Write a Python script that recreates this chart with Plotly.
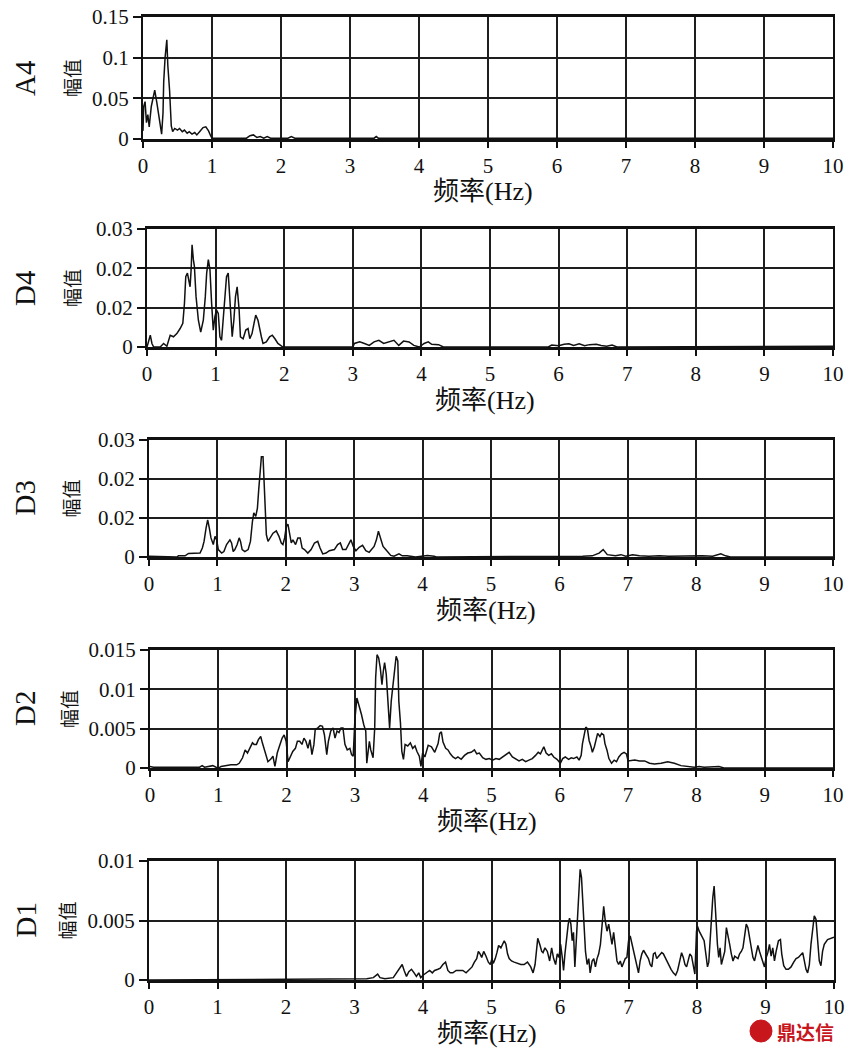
import plotly.graph_objects as go

# ---------------- data (frequency Hz, amplitude) ----------------
panel_names = ["A4", "D4", "D3", "D2", "D1"]
x_ticks = [0, 1, 2, 3, 4, 5, 6, 7, 8, 9, 10]
x_tick_labels = ["0", "1", "2", "3", "4", "5", "6", "7", "8", "9", "10"]

a4_yticks = [0, 0.05, 0.1, 0.15]
a4_ytick_labels = ["0", "0.05", "0.1", "0.15"]
d4_yticks = [0, 0.01, 0.02, 0.03]
d4_ytick_labels = ["0", "0.02", "0.02", "0.03"]
d3_yticks = [0, 0.01, 0.02, 0.03]
d3_ytick_labels = ["0", "0.02", "0.02", "0.03"]
d2_yticks = [0, 0.005, 0.01, 0.015]
d2_ytick_labels = ["0", "0.005", "0.01", "0.015"]
d1_yticks = [0, 0.005, 0.01]
d1_ytick_labels = ["0", "0.005", "0.01"]

a4_freq = [0, 0.01, 0.03, 0.05, 0.07, 0.09, 0.12, 0.15, 0.17, 0.2, 0.23, 0.25, 0.27, 0.29, 0.3, 0.32,
           0.345, 0.36, 0.385, 0.41, 0.43, 0.46, 0.5, 0.53, 0.57, 0.6, 0.64, 0.67, 0.71, 0.75, 0.78,
           0.82, 0.87, 0.91, 0.95, 0.98, 1.0, 1.5, 1.55, 1.6, 1.65, 1.7, 1.75, 1.8, 1.85, 2.1, 2.15,
           2.2, 3.35, 3.38, 3.41, 10.0]
a4_amp = [0.01, 0.04, 0.046, 0.02, 0.03, 0.015, 0.04, 0.055, 0.06, 0.045, 0.03, 0.015, 0.006, 0.032,
          0.07, 0.1, 0.122, 0.09, 0.06, 0.016, 0.009, 0.013, 0.011, 0.013, 0.009, 0.011, 0.007, 0.009,
          0.006, 0.008, 0.005, 0.009, 0.014, 0.015, 0.01, 0.004, 0.001, 0.001, 0.004, 0.005, 0.002,
          0.003, 0.001, 0.003, 0.001, 0.001, 0.003, 0.001, 0.001, 0.003, 0.001, 0.001]

d4_freq = [0, 0.024, 0.048, 0.072, 0.097, 0.193, 0.242, 0.29, 0.338, 0.386, 0.435, 0.483, 0.522,
           0.546, 0.565, 0.589, 0.614, 0.628, 0.643, 0.657, 0.676, 0.691, 0.715, 0.749, 0.783, 0.821,
           0.85, 0.87, 0.894, 0.918, 0.942, 0.966, 0.99, 1.014, 1.039, 1.063, 1.087, 1.111, 1.135,
           1.159, 1.184, 1.208, 1.242, 1.266, 1.29, 1.314, 1.343, 1.362, 1.401, 1.44, 1.473, 1.498,
           1.531, 1.56, 1.585, 1.618, 1.643, 1.667, 1.691, 1.739, 1.787, 1.826, 1.865, 1.908, 1.981,
           3.0, 3.024, 3.1, 3.17, 3.24, 3.31, 3.38, 3.45, 3.53, 3.6, 3.67, 3.74, 3.82, 3.89, 3.97,
           4.04, 4.1, 4.15, 4.25, 4.32, 5.85, 5.9, 6.0, 6.08, 6.15, 6.22, 6.3, 6.38, 6.45, 6.55,
           6.62, 6.7, 6.78, 6.85, 10.0]
d4_amp = [0.0, 0.0013, 0.003, 0.0009, 0.0, 0.0, 0.0009, 0.0002, 0.003, 0.0026, 0.0034, 0.0047, 0.006,
          0.0111, 0.0179, 0.0188, 0.0166, 0.0153, 0.0196, 0.026, 0.0222, 0.0205, 0.0128, 0.0068,
          0.0038, 0.0068, 0.0128, 0.0188, 0.0222, 0.0196, 0.0111, 0.0043, 0.0077, 0.0094, 0.0085,
          0.0026, 0.0017, 0.0068, 0.0128, 0.0179, 0.0188, 0.0119, 0.0026, 0.0068, 0.0128, 0.0153,
          0.0094, 0.0026, 0.0021, 0.0043, 0.0047, 0.0021, 0.0034, 0.006, 0.0081, 0.0068, 0.0043,
          0.0026, 0.0009, 0.0013, 0.0026, 0.003, 0.0021, 0.0009, 0.0,
          0.0, 0.0009, 0.0013, 0.0009, 0.0004, 0.0013, 0.0017, 0.0009, 0.0013, 0.0017, 0.0004,
          0.0015, 0.0013, 0.0004, 0.0, 0.0009, 0.0013, 0.0007, 0.0006, 0.0, 0.0, 0.0005, 0.0003,
          0.0007, 0.0008, 0.0004, 0.0008, 0.0003, 0.0006, 0.0007, 0.0004, 0.0002, 0.0005, 0.0, 0.0002]

d3_freq = [0, 0.407, 0.431, 0.528, 0.577, 0.746, 0.78, 0.805, 0.834, 0.858, 0.882, 0.906, 0.94, 0.965,
           0.989, 1.013, 1.062, 1.095, 1.134, 1.183, 1.207, 1.231, 1.255, 1.289, 1.318, 1.338, 1.362,
           1.401, 1.449, 1.483, 1.512, 1.532, 1.561, 1.585, 1.604, 1.619, 1.643, 1.667, 1.687, 1.701,
           1.716, 1.74, 1.774, 1.813, 1.861, 1.9, 1.934, 1.958, 1.983, 2.007, 2.031, 2.055, 2.08,
           2.104, 2.143, 2.176, 2.21, 2.239, 2.273, 2.322, 2.37, 2.419, 2.467, 2.501, 2.54, 2.588,
           2.637, 2.71, 2.758, 2.797, 2.831, 2.879, 2.928, 2.952, 2.986, 3.025, 3.073, 3.122, 3.17,
           3.219, 3.291, 3.325, 3.354, 3.388, 3.422, 3.461, 3.5, 3.534, 3.582, 3.655, 3.703, 3.776,
           3.897, 4.043, 4.07, 4.17, 4.2, 6.34, 6.48, 6.58, 6.64, 6.7, 6.82, 6.9, 6.97, 7.07, 7.17,
           7.31, 7.46, 7.6, 7.8, 7.94, 8.09, 8.24, 8.36, 8.43, 8.5, 10.0]
d3_amp = [0.0002, 0.0, 0.0003, 0.0003, 0.0009, 0.001, 0.0023, 0.004, 0.0074, 0.0095, 0.0074, 0.0049,
          0.0032, 0.0053, 0.0044, 0.0019, 0.001, 0.0014, 0.0032, 0.0044, 0.0036, 0.0014, 0.0019,
          0.0032, 0.0049, 0.004, 0.0019, 0.0014, 0.0019, 0.004, 0.0091, 0.0113, 0.0104, 0.0125,
          0.0172, 0.0211, 0.0257, 0.0257, 0.0189, 0.0108, 0.0057, 0.004, 0.0049, 0.0061, 0.0067,
          0.0053, 0.0036, 0.0032, 0.0049, 0.0078, 0.0084, 0.0061, 0.0036, 0.0044, 0.0032, 0.0049,
          0.0049, 0.0023, 0.0019, 0.001, 0.0019, 0.0036, 0.004, 0.0023, 0.0008, 0.001, 0.0016,
          0.0019, 0.0032, 0.0036, 0.0019, 0.0019, 0.0038, 0.0044, 0.0027, 0.0016, 0.0025, 0.003,
          0.0016, 0.0012, 0.0027, 0.0044, 0.0066, 0.0049, 0.0027, 0.0019, 0.001, 0.0004, 0.0002,
          0.0008, 0.0003, 0.0003, 0.0, 0.0003, 0.0004, 0.0002, 0.0, 0.0002, 0.0003, 0.001, 0.0019,
          0.0006, 0.0003, 0.0006, 0.0002, 0.0006, 0.0003, 0.0002, 0.0003, 0.0002, 0.0003, 0.0004,
          0.0003, 0.0002, 0.0008, 0.0003, 0.0, 0.0]

d2_freq = [0, 0.048, 0.726, 0.764, 0.798, 0.895, 0.919, 0.968, 1.006, 1.04, 1.113, 1.185, 1.268,
           1.306, 1.355, 1.393, 1.427, 1.461, 1.5, 1.524, 1.558, 1.587, 1.621, 1.645, 1.669, 1.693,
           1.727, 1.766, 1.8, 1.829, 1.863, 1.896, 1.935, 1.964, 1.993, 2.022, 2.056, 2.09, 2.129,
           2.158, 2.192, 2.225, 2.254, 2.283, 2.313, 2.342, 2.371, 2.4, 2.419, 2.458, 2.492, 2.525,
           2.554, 2.588, 2.612, 2.646, 2.68, 2.709, 2.738, 2.767, 2.796, 2.825, 2.854, 2.888, 2.927,
           2.951, 2.975, 3.0, 3.029, 3.058, 3.096, 3.13, 3.159, 3.174, 3.193, 3.212, 3.232, 3.266,
           3.29, 3.304, 3.324, 3.348, 3.372, 3.396, 3.416, 3.435, 3.459, 3.483, 3.508, 3.532, 3.556,
           3.58, 3.604, 3.628, 3.643, 3.667, 3.687, 3.711, 3.735, 3.774, 3.812, 3.846, 3.88, 3.909,
           3.943, 3.967, 3.991, 4.024, 4.073, 4.121, 4.169, 4.218, 4.242, 4.266, 4.29, 4.329, 4.363,
           4.397, 4.435, 4.474, 4.508, 4.556, 4.605, 4.653, 4.702, 4.75, 4.784, 4.822, 4.871, 4.919,
           4.968, 5.016, 5.064, 5.113, 5.161, 5.219, 5.258, 5.306, 5.355, 5.403, 5.451, 5.5, 5.548,
           5.597, 5.645, 5.684, 5.717, 5.766, 5.8, 5.838, 5.877, 5.911, 5.959, 6.008, 6.042, 6.08,
           6.129, 6.167, 6.201, 6.25, 6.283, 6.313, 6.332, 6.356, 6.38, 6.404, 6.429, 6.458, 6.477,
           6.506, 6.53, 6.554, 6.588, 6.612, 6.642, 6.661, 6.69, 6.719, 6.758, 6.796, 6.83, 6.864,
           6.903, 6.941, 6.975, 7.0, 7.096, 7.169, 7.241, 7.314, 7.387, 7.483, 7.58, 7.677, 7.774,
           7.87, 7.967, 8.04, 8.112, 8.33, 8.403, 10.0]
d2_amp = [0.0002, 0.0001, 0.0001, 0.0003, 0.0001, 0.0002, 0.0003, 0.0001, 0.0, 0.0002, 0.0003, 0.0004,
          0.0004, 0.0006, 0.0013, 0.0023, 0.0019, 0.0025, 0.0032, 0.003, 0.003, 0.0036, 0.004, 0.0032,
          0.0025, 0.0021, 0.0008, 0.0011, 0.0015, 0.0002, 0.0019, 0.0028, 0.0038, 0.0042, 0.0034,
          0.0008, 0.0015, 0.0021, 0.0025, 0.0034, 0.0034, 0.003, 0.0038, 0.0034, 0.0025, 0.0036,
          0.0017, 0.003, 0.0049, 0.0051, 0.0054, 0.0053, 0.0042, 0.0017, 0.0034, 0.0047, 0.0051,
          0.0038, 0.0047, 0.0045, 0.0051, 0.0051, 0.003, 0.0023, 0.0025, 0.0017, 0.0015, 0.0062,
          0.0089, 0.0081, 0.0068, 0.0055, 0.0047, 0.0006, 0.0017, 0.0034, 0.0023, 0.0013, 0.0051,
          0.0115, 0.0144, 0.014, 0.0127, 0.0106, 0.0123, 0.0134, 0.0119, 0.0081, 0.0051, 0.0085,
          0.0106, 0.0127, 0.0142, 0.0136, 0.0085, 0.0057, 0.0021, 0.0011, 0.003, 0.0028, 0.0032,
          0.0025, 0.0028, 0.0021, 0.0015, 0.0002, 0.0019, 0.0014, 0.0029, 0.0027, 0.002, 0.0031,
          0.0044, 0.0046, 0.0033, 0.0025, 0.0023, 0.0018, 0.0014, 0.0012, 0.0014, 0.0011, 0.0016,
          0.0019, 0.002, 0.0023, 0.0018, 0.0019, 0.0013, 0.0011, 0.0012, 0.001, 0.0012, 0.0011,
          0.0014, 0.0018, 0.002, 0.0014, 0.0012, 0.0009, 0.0011, 0.0008, 0.001, 0.0012, 0.0016,
          0.002, 0.0018, 0.0027, 0.0019, 0.0016, 0.0018, 0.0014, 0.0011, 0.0006, 0.0012, 0.0014,
          0.0011, 0.0013, 0.0012, 0.0014, 0.001, 0.0016, 0.0031, 0.0044, 0.0052, 0.005, 0.0035,
          0.0027, 0.002, 0.0027, 0.0037, 0.0044, 0.004, 0.0044, 0.0042, 0.0031, 0.0023, 0.0012,
          0.0006, 0.001, 0.0008, 0.0014, 0.0018, 0.002, 0.0018, 0.0009, 0.001, 0.0009, 0.0009,
          0.0006, 0.0005, 0.0006, 0.0008, 0.0006, 0.0003, 0.0002, 0.0001, 0.0002, 0.0001, 0.0002,
          0.0, 0.0]

d1_freq = [0, 3.178, 3.275, 3.314, 3.338, 3.372, 3.445, 3.566, 3.614, 3.663, 3.696, 3.725, 3.759,
           3.793, 3.832, 3.87, 3.904, 3.938, 3.967, 4.0, 4.048, 4.097, 4.136, 4.169, 4.218, 4.252,
           4.29, 4.329, 4.363, 4.397, 4.436, 4.484, 4.532, 4.581, 4.629, 4.678, 4.716, 4.75, 4.784,
           4.808, 4.833, 4.857, 4.886, 4.92, 4.954, 4.983, 5.007, 5.026, 5.055, 5.079, 5.104, 5.137,
           5.162, 5.186, 5.21, 5.234, 5.258, 5.292, 5.331, 5.379, 5.428, 5.476, 5.525, 5.573, 5.607,
           5.636, 5.655, 5.675, 5.704, 5.733, 5.752, 5.781, 5.815, 5.849, 5.878, 5.907, 5.936, 5.96,
           5.985, 6.009, 6.033, 6.052, 6.072, 6.096, 6.12, 6.139, 6.159, 6.178, 6.197, 6.217, 6.236,
           6.256, 6.275, 6.294, 6.314, 6.333, 6.352, 6.372, 6.396, 6.42, 6.44, 6.469, 6.493, 6.517,
           6.541, 6.565, 6.59, 6.614, 6.638, 6.662, 6.686, 6.711, 6.735, 6.759, 6.783, 6.807, 6.832,
           6.856, 6.88, 6.904, 6.928, 6.953, 6.977, 7.001, 7.025, 7.05, 7.074, 7.098, 7.122, 7.146,
           7.17, 7.195, 7.219, 7.243, 7.267, 7.291, 7.316, 7.34, 7.364, 7.388, 7.412, 7.437, 7.461,
           7.485, 7.509, 7.543, 7.582, 7.621, 7.654, 7.688, 7.717, 7.746, 7.775, 7.8, 7.824, 7.848,
           7.872, 7.896, 7.921, 7.945, 7.969, 7.993, 8.008, 8.032, 8.056, 8.08, 8.104, 8.129, 8.153,
           8.172, 8.192, 8.211, 8.23, 8.25, 8.264, 8.279, 8.298, 8.317, 8.337, 8.356, 8.38, 8.405,
           8.429, 8.453, 8.477, 8.501, 8.526, 8.55, 8.574, 8.598, 8.622, 8.647, 8.671, 8.695, 8.719,
           8.743, 8.768, 8.792, 8.816, 8.84, 8.864, 8.889, 8.913, 8.937, 8.961, 8.985, 9.01, 9.034,
           9.058, 9.082, 9.106, 9.131, 9.155, 9.189, 9.218, 9.237, 9.266, 9.3, 9.334, 9.373, 9.412,
           9.446, 9.48, 9.518, 9.543, 9.567, 9.591, 9.615, 9.64, 9.664, 9.688, 9.712, 9.737, 9.761,
           9.785, 9.809, 9.833, 9.858, 9.906, 10.0]
d1_amp = [0.0, 0.0001, 0.0002, 0.0004, 0.0005, 0.0002, 0.0001, 0.0002, 0.0006, 0.001, 0.0013, 0.0008,
          0.0003, 0.0007, 0.0009, 0.0006, 0.0003, 0.0006, 0.0002, 0.0004, 0.0006, 0.0008, 0.0006,
          0.0008, 0.0009, 0.001, 0.0013, 0.0015, 0.0008, 0.0006, 0.0006, 0.0008, 0.0008, 0.0008,
          0.0006, 0.0009, 0.0011, 0.0015, 0.0018, 0.0024, 0.0022, 0.0019, 0.0024, 0.002, 0.0015,
          0.0013, 0.0018, 0.0014, 0.0018, 0.0023, 0.0029, 0.0027, 0.003, 0.0033, 0.003, 0.0022,
          0.0018, 0.0016, 0.0015, 0.0014, 0.0013, 0.0013, 0.0015, 0.0011, 0.0006, 0.0013, 0.0024,
          0.0035, 0.003, 0.0024, 0.0023, 0.0027, 0.0024, 0.0016, 0.0027, 0.0018, 0.0013, 0.0022,
          0.0019, 0.003, 0.0019, 0.0008, 0.0022, 0.0038, 0.0047, 0.0052, 0.0047, 0.0033, 0.004,
          0.0011, 0.003, 0.0049, 0.0072, 0.0093, 0.0086, 0.0065, 0.0044, 0.0024, 0.0013, 0.0018,
          0.0006, 0.0016, 0.0018, 0.0011, 0.0018, 0.0022, 0.003, 0.0049, 0.0062, 0.0049, 0.0041,
          0.0047, 0.0036, 0.003, 0.004, 0.0027, 0.0016, 0.0013, 0.0016, 0.0011, 0.0015, 0.0018,
          0.0019, 0.0033, 0.0037, 0.003, 0.0024, 0.0019, 0.0013, 0.0006, 0.0016, 0.0022, 0.0025,
          0.0023, 0.002, 0.0018, 0.0013, 0.0011, 0.0022, 0.0023, 0.0018, 0.002, 0.0022, 0.0023,
          0.0022, 0.0018, 0.0013, 0.0009, 0.0006, 0.0004, 0.0008, 0.0015, 0.0023, 0.0019, 0.0013,
          0.0011, 0.0018, 0.0022, 0.002, 0.0013, 0.0005, 0.0041, 0.0045, 0.0041, 0.0038, 0.0036,
          0.0033, 0.0022, 0.0011, 0.0015, 0.0033, 0.0058, 0.0069, 0.0079, 0.0063, 0.0045, 0.003,
          0.0019, 0.0027, 0.0013, 0.0019, 0.0024, 0.0044, 0.0038, 0.003, 0.0022, 0.0016, 0.002,
          0.0019, 0.0018, 0.0022, 0.0024, 0.0027, 0.0037, 0.0047, 0.0044, 0.0036, 0.003, 0.0019,
          0.0016, 0.0024, 0.0029, 0.0024, 0.0019, 0.0015, 0.0011, 0.0019, 0.0023, 0.003, 0.002,
          0.0027, 0.0016, 0.0024, 0.0033, 0.0034, 0.0022, 0.0012, 0.0009, 0.0009, 0.0011, 0.0015,
          0.0018, 0.0019, 0.0022, 0.0023, 0.0016, 0.0009, 0.0006, 0.0013, 0.003, 0.0044, 0.0054,
          0.0051, 0.0036, 0.0016, 0.0012, 0.0024, 0.003, 0.0034, 0.0036]

panels = [
    (a4_freq, a4_amp, a4_yticks, a4_ytick_labels),
    (d4_freq, d4_amp, d4_yticks, d4_ytick_labels),
    (d3_freq, d3_amp, d3_yticks, d3_ytick_labels),
    (d2_freq, d2_amp, d2_yticks, d2_ytick_labels),
    (d1_freq, d1_amp, d1_yticks, d1_ytick_labels),
]

# ---------------- layout (pixel geometry of the page) ----------------
W, H = 850, 1054
left_px = [143, 147, 149, 150, 149]
right_px = [833, 833, 833, 833, 834]
top_px = [17, 229, 440, 650, 861]
bottom_px = [139, 347, 557, 768, 980]
label_x_px = [25, 25, 25, 25, 25]
ytitle_x_px = [72, 72, 70, 68, 66]

serif = "Liberation Serif, Times New Roman, serif"
cjk = "Liberation Serif, Noto Sans CJK SC, serif"
ink = "#111111"

fig = go.Figure()
layout = dict(
    width=W, height=H, margin=dict(l=0, r=0, t=0, b=0, autoexpand=False),
    paper_bgcolor="white", plot_bgcolor="white", showlegend=False,
    annotations=[], shapes=[],
)

for i, (fx, amp, yt, ytl) in enumerate(panels):
    n = "" if i == 0 else str(i + 1)
    xa, ya = "x" + n, "y" + n
    fig.add_trace(go.Scatter(x=fx, y=amp, mode="lines", xaxis=xa, yaxis=ya,
                             line=dict(color=ink, width=1.5), hoverinfo="skip",
                             cliponaxis=False))
    xdom = [left_px[i] / W, right_px[i] / W]
    ydom = [1 - bottom_px[i] / H, 1 - top_px[i] / H]
    layout["xaxis" + n] = dict(
        domain=xdom, anchor=ya, range=[0, 10], tickvals=x_ticks, ticktext=x_tick_labels,
        showgrid=True, gridcolor="#1e1e1e", gridwidth=1.8, zeroline=False,
        showline=True, linecolor=ink, linewidth=2.5, mirror=True,
        ticks="outside", ticklen=6, tickwidth=2, tickcolor=ink, automargin=False,
        tickfont=dict(family=serif, size=21, color=ink), fixedrange=True,
    )
    yr = yt[-1]
    layout["yaxis" + n] = dict(
        domain=ydom, anchor=xa, range=[0, yr], tickvals=yt, ticktext=ytl,
        showgrid=True, gridcolor="#1e1e1e", gridwidth=1.8, zeroline=False,
        showline=True, linecolor=ink, linewidth=2, mirror=True,
        ticks="outside", ticklen=8, tickwidth=1.5, tickcolor=ink, automargin=False,
        tickfont=dict(family=serif, size=21, color=ink), fixedrange=True,
    )
    mid_y = 1 - (top_px[i] + bottom_px[i]) / 2 / H
    layout["annotations"].append(dict(
        text=panel_names[i], xref="paper", yref="paper", x=label_x_px[i] / W, y=mid_y,
        xanchor="center", yanchor="middle", textangle=-90, showarrow=False,
        font=dict(family=serif, size=29, color=ink)))
    layout["annotations"].append(dict(
        text="幅值", xref="paper", yref="paper", x=ytitle_x_px[i] / W, y=mid_y,
        xanchor="center", yanchor="middle", textangle=-90, showarrow=False,
        font=dict(family="Noto Sans CJK SC", size=19, color=ink)))
    layout["annotations"].append(dict(
        text="频率(Hz)", xref="paper", yref="paper",
        x=(left_px[i] + right_px[i]) / 2 / W - 5 / W, y=1 - (bottom_px[i] + 53) / H,
        xanchor="center", yanchor="middle", showarrow=False,
        font=dict(family=cjk, size=26, color=ink)))

# watermark logo
layout["shapes"].append(dict(type="circle", xref="paper", yref="paper",
                             x0=750 / W, x1=772 / W, y0=1 - 1042 / H, y1=1 - 1020 / H,
                             fillcolor="#c8161d", line=dict(color="#c8161d", width=1)))
layout["annotations"].append(dict(
    text="<b>鼎达信</b>", xref="paper", yref="paper", x=805 / W, y=1 - 1031 / H,
    xanchor="center", yanchor="middle", showarrow=False,
    font=dict(family="Noto Sans CJK SC", size=19, color="#c8161d")))

fig.update_layout(**layout)
fig.write_html("out.html", config={"displayModeBar": False},
               post_script="document.body.style.margin='0px';document.body.style.overflow='hidden';")
